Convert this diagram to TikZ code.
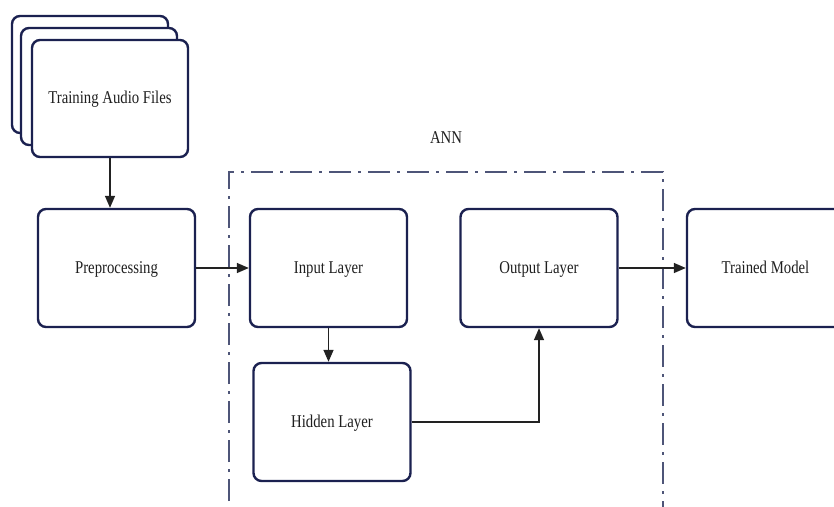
\documentclass[tikz,border=0pt]{standalone}
\usepackage{fontspec}
\setmainfont{Liberation Serif}
\newfontfamily\lbl[FakeStretch=0.82]{Liberation Serif}
\usetikzlibrary{arrows.meta}
\definecolor{boxline}{HTML}{1B2150}
\definecolor{annline}{HTML}{4E5578}
\definecolor{arr}{HTML}{222222}
\tikzset{
  lblfont/.style={font=\lbl\fontsize{18}{20}\selectfont, text=black!88},
  blk/.style={draw=boxline, line width=2.4pt, rounded corners=8pt, fill=white,
    minimum width=#1, minimum height=118pt, inner sep=0pt, lblfont,
    text height=12pt, text depth=2pt},
  blk/.default=157pt,
  conn/.style={draw=arr, line width=1.5pt, -{Triangle[length=12pt,width=10pt]}},
  annbox/.style={draw=annline, line width=2.2pt, dash pattern=on 22pt off 7pt on 3pt off 7pt}
}
\begin{document}
\begin{tikzpicture}[x=1pt,y=-1pt]
\useasboundingbox (0,0) rectangle (834,506);
% ANN dashed region
\begin{scope}
\clip (0,0) rectangle (834,506);
\draw[annbox] (229,540) -- (229,172) -- (663,172) -- (663,540);
\end{scope}
\node[lblfont] (ann) at (446,138) {ANN};
% stacked files
\node[blk=156pt, minimum height=117pt] (f3) at (90,74.5) {};
\node[blk=156pt, minimum height=117pt] (f2) at (99,86.5) {};
\node[blk=156pt, minimum height=117pt] (f1) at (110,98.5) {Training Audio Files};
% main blocks
\node[blk] (pre) at (116.5,268) {Preprocessing};
\node[blk] (inp) at (328.5,268) {Input Layer};
\node[blk] (out) at (539,268) {Output Layer};
\node[blk] (hid) at (332,422) {Hidden Layer};
\begin{scope}
\clip (0,0) rectangle (834,506);
\node[blk] (trm) at (765.5,268) {};
\end{scope}
\node[lblfont, text height=12pt, text depth=2pt] (trmlbl) at (765.5,268) {Trained Model};
% connectors
\draw[conn] (f1.south) -- (pre.north -| f1.south);
\draw[conn] (pre.east) -- (inp.west);
\draw[conn] (inp.south) -- (hid.north -| inp.south);
\draw[conn] (hid.east) -| (out.south);
\draw[conn] (out.east) -- (trm.west);
\end{tikzpicture}
\end{document}
